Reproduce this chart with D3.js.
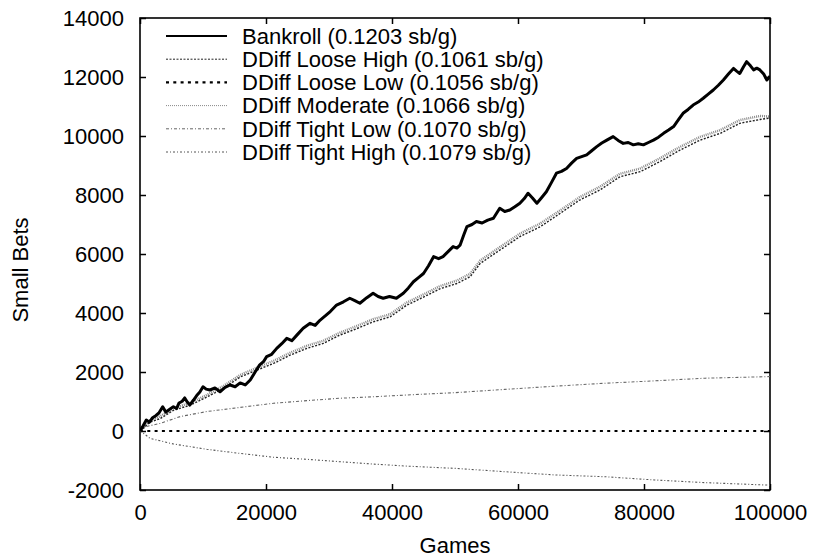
<!DOCTYPE html>
<html>
<head>
<meta charset="utf-8">
<script src="https://cdn.jsdelivr.net/npm/d3@7"></script>
<style>
  html, body { margin: 0; padding: 0; background: #fff; }
  svg { display: block; }
  text { font-family: "Liberation Sans", Arial, Helvetica, sans-serif; fill: #000; }
</style>
</head>
<body>
<svg id="chart" width="813" height="560"></svg>
<script>
// Axis ticks
const xTicks = [0, 20000, 40000, 60000, 80000, 100000];
const yTicks = [-2000, 0, 2000, 4000, 6000, 8000, 10000, 12000, 14000];

// Series names and win rates (small bets per game)
const seriesNames = ["Bankroll", "DDiff Loose High", "DDiff Loose Low", "DDiff Moderate", "DDiff Tight Low", "DDiff Tight High"];
const seriesRates = [0.1203, 0.1061, 0.1056, 0.1066, 0.1070, 0.1079];

// [games, small bets]
const bankroll = [
  [0,0],[500,180],[1000,370],[1500,300],[2000,450],[2500,520],[3000,610],[3600,820],[4100,640],[4500,700],
  [5300,825],[5800,760],[6200,950],[6700,1010],[7100,1120],[7500,980],[7900,880],[8500,1050],[9000,1200],
  [9500,1320],[10000,1500],[10500,1420],[11100,1390],[11900,1460],[12700,1330],[13500,1480],[14300,1560],
  [15100,1500],[15900,1630],[16700,1560],[17500,1730],[18300,2010],[19000,2240],[19600,2350],[20100,2520],
  [20900,2600],[21700,2800],[22500,2960],[23300,3140],[24100,3060],[24900,3250],[25900,3480],[27000,3650],
  [27800,3580],[28600,3760],[29400,3900],[30200,4050],[31200,4270],[32300,4380],[33300,4500],[34100,4420],
  [34900,4330],[36000,4520],[37000,4670],[37800,4560],[38600,4500],[39600,4560],[40700,4500],[41800,4670],
  [42600,4850],[43400,5060],[44200,5200],[45000,5340],[45800,5600],[46600,5910],[47400,5840],[48100,5910],
  [48900,6080],[49700,6250],[50300,6200],[50800,6300],[51400,6650],[51900,6930],[52700,7000],[53400,7100],
  [54300,7050],[55200,7150],[56100,7210],[56600,7380],[57100,7550],[57900,7440],[58700,7490],[59500,7600],
  [60300,7720],[61000,7880],[61600,8060],[62300,7900],[63000,7720],[63700,7900],[64500,8110],[65300,8420],
  [66100,8740],[66900,8800],[67700,8900],[68500,9080],[69300,9240],[70100,9300],[70900,9360],[71700,9500],
  [72500,9640],[73300,9760],[74100,9860],[74600,9920],[75100,9980],[75900,9850],[76700,9750],[77500,9780],
  [78300,9700],[79100,9740],[79900,9700],[80700,9780],[81500,9860],[82300,9960],[83100,10090],[83900,10200],
  [84700,10320],[85500,10560],[86200,10770],[87000,10900],[87800,11050],[88600,11150],[89400,11280],
  [90200,11420],[91000,11560],[91800,11720],[92600,11900],[93400,12100],[94200,12290],[94700,12200],
  [95200,12120],[95800,12350],[96300,12520],[96900,12380],[97400,12240],[97900,12300],[98400,12240],
  [99000,12100],[99500,11900],[100000,12030]
];

const looseHigh = [
  [0,0],[1600,300],[3200,420],[5300,700],[7900,870],[10600,1150],[13200,1440],[15900,1830],[18500,2060],
  [21200,2290],[23800,2570],[26500,2800],[29100,2970],[31700,3250],[34400,3470],[37000,3700],[39700,3870],
  [42300,4260],[45000,4540],[47600,4820],[50300,5000],[52400,5230],[54000,5680],[57100,6130],[60300,6590],
  [63500,6920],[66700,7380],[69800,7830],[73000,8170],[76200,8620],[79400,8790],[82500,9130],[85700,9520],
  [88900,9860],[92100,10090],[95200,10430],[98400,10560],[100000,10610]
];

const looseLow = [[0,0],[25000,0],[50000,0],[75000,0],[100000,0]];

const moderate = [
  [0,0],[1600,360],[3200,500],[5300,770],[7900,950],[10600,1220],[13200,1520],[15900,1900],[18500,2140],
  [21200,2380],[23800,2650],[26500,2890],[29100,3060],[31700,3330],[34400,3560],[37000,3790],[39700,3960],
  [42300,4350],[45000,4630],[47600,4910],[50300,5100],[52400,5330],[54000,5780],[57100,6230],[60300,6690],
  [63500,7030],[66700,7480],[69800,7930],[73000,8280],[76200,8720],[79400,8900],[82500,9240],[85700,9630],
  [88900,9970],[92100,10200],[95200,10540],[98400,10680],[100000,10660]
];

const tightLow = [
  [0,0],[1000,150],[3200,260],[6400,490],[10600,660],[15900,800],[21200,940],[26500,1030],[31700,1110],
  [37000,1160],[42300,1220],[50000,1300],[57900,1410],[65900,1520],[73800,1620],[81700,1700],[89700,1790],
  [99200,1840],[100000,1845]
];

const tightHigh = [
  [0,0],[500,-70],[1600,-250],[5300,-440],[10600,-620],[15900,-760],[21200,-890],[26500,-960],[31700,-1040],
  [37000,-1120],[42300,-1190],[50300,-1270],[57900,-1380],[65900,-1490],[73800,-1550],[81700,-1660],
  [89700,-1750],[99200,-1830],[100000,-1835]
];

// Stroke styles for each series (same order as the names)
const styles = [
  { color: "#000", width: 3.0, dash: null,      legendWidth: 2 },
  { color: "#222", width: 1.4, dash: "2,1.5",   legendWidth: 1 },
  { color: "#000", width: 2.2, dash: "3,4.3",   legendWidth: 2.2 },
  { color: "#888", width: 2.4, dash: "1,1",     legendWidth: 1 },
  { color: "#666", width: 1.1, dash: "3,2,1,2", legendWidth: 1 },
  { color: "#555", width: 1.1, dash: "2,2,1,2", legendWidth: 1 }
];

const seriesData = [bankroll, looseHigh, looseLow, moderate, tightLow, tightHigh];

const svg = d3.select("#chart");
const margin = { left: 140, right: 43, top: 18, bottom: 70 };
const W = 813, H = 560;

const x = d3.scaleLinear().domain([0, 100000]).range([margin.left, W - margin.right]);
const y = d3.scaleLinear().domain([-2000, 14000]).range([H - margin.bottom, margin.top]);

const fontSize = 22;
const plainNumber = d => String(d);

svg.append("defs").append("clipPath").attr("id", "plot-clip")
  .append("rect")
  .attr("x", x(0)).attr("y", y(14000))
  .attr("width", x(100000) - x(0)).attr("height", y(-2000) - y(14000));

const tickLen = 6;

// Bottom axis with labels, ticks pointing into the plot
const xAxis = svg.append("g")
  .attr("transform", `translate(0,${y(-2000)})`)
  .call(d3.axisBottom(x).tickValues(xTicks).tickSizeInner(-tickLen).tickSizeOuter(0).tickFormat(plainNumber));
// Top axis, mirrored ticks only
const xAxisTop = svg.append("g")
  .attr("transform", `translate(0,${y(14000)})`)
  .call(d3.axisTop(x).tickValues(xTicks).tickSizeInner(-tickLen).tickSizeOuter(0).tickFormat(""));
// Left axis with labels
const yAxis = svg.append("g")
  .attr("transform", `translate(${x(0)},0)`)
  .call(d3.axisLeft(y).tickValues(yTicks).tickSizeInner(-tickLen).tickSizeOuter(0).tickPadding(tickLen + 10).tickFormat(plainNumber));
// Right axis, mirrored ticks only
const yAxisRight = svg.append("g")
  .attr("transform", `translate(${x(100000)},0)`)
  .call(d3.axisRight(y).tickValues(yTicks).tickSizeInner(-tickLen).tickSizeOuter(0).tickFormat(""));

[xAxis, xAxisTop, yAxis, yAxisRight].forEach(g => {
  g.select(".domain").remove();
  g.selectAll(".tick line").attr("stroke", "#000").attr("stroke-width", 1.5);
  g.selectAll(".tick text")
    .attr("font-size", fontSize)
    .attr("font-family", '"Liberation Sans", Arial, sans-serif')
    .attr("fill", "#000");
});
xAxis.selectAll(".tick text").attr("dy", null).attr("y", 30);
yAxis.selectAll(".tick text").attr("dy", "0.36em");

// Plot frame
svg.append("rect")
  .attr("x", x(0)).attr("y", y(14000))
  .attr("width", x(100000) - x(0)).attr("height", y(-2000) - y(14000))
  .attr("fill", "none").attr("stroke", "#000").attr("stroke-width", 1.6);

// Axis titles
svg.append("text")
  .attr("x", (x(0) + x(100000)) / 2).attr("y", 553)
  .attr("text-anchor", "middle").attr("font-size", fontSize)
  .text("Games");
svg.append("text")
  .attr("transform", `translate(28,270) rotate(-90)`)
  .attr("text-anchor", "middle").attr("font-size", fontSize)
  .text("Small Bets");

// Lines
const line = d3.line().x(d => x(d[0])).y(d => y(d[1]));
const plot = svg.append("g").attr("clip-path", "url(#plot-clip)");
const drawOrder = [5, 4, 2, 3, 1, 0];
drawOrder.forEach(i => {
  plot.append("path")
    .datum(seriesData[i])
    .attr("fill", "none")
    .attr("stroke", styles[i].color)
    .attr("stroke-width", styles[i].width)
    .attr("stroke-dasharray", styles[i].dash)
    .attr("stroke-linejoin", "round")
    .attr("d", line);
});

// Legend
const legend = svg.append("g");
const rowH = 23.2, legendTop = 36, sampleX0 = 166, sampleX1 = 227, labelX = 242;
seriesNames.forEach((name, i) => {
  const cy = legendTop + i * rowH;
  legend.append("line")
    .attr("x1", sampleX0).attr("x2", sampleX1).attr("y1", cy).attr("y2", cy)
    .attr("stroke", styles[i].color)
    .attr("stroke-width", styles[i].legendWidth)
    .attr("stroke-dasharray", styles[i].dash);
  legend.append("text")
    .attr("x", labelX).attr("y", cy).attr("dy", "0.35em")
    .attr("font-size", fontSize)
    .text(`${name} (${seriesRates[i].toFixed(4)} sb/g)`);
});
</script>
</body>
</html>
